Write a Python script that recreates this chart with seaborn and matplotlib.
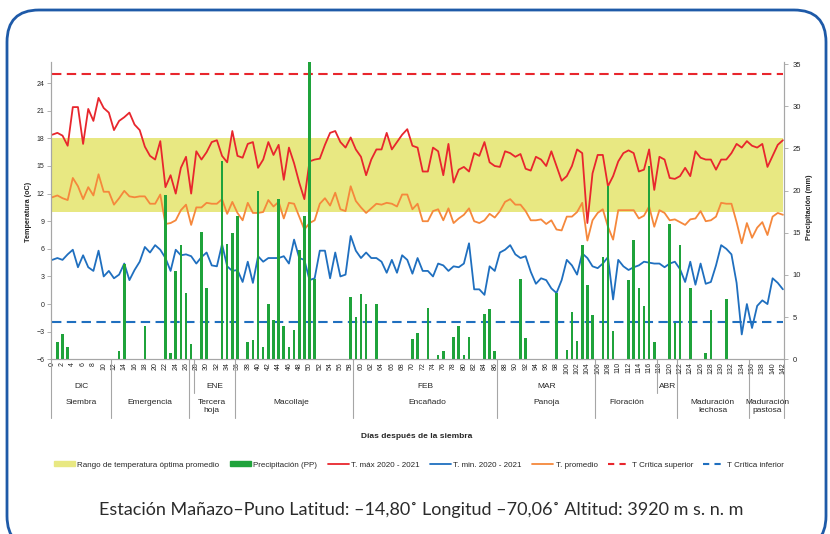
import matplotlib
matplotlib.use("Agg")
import matplotlib.pyplot as plt
import numpy as np
import seaborn as sns
from matplotlib.patches import FancyBboxPatch, Patch
from matplotlib.lines import Line2D
from matplotlib.transforms import IdentityTransform

# ---- data ----
days = list(range(0, 143))

t_max = [18.4, 18.6, 18.3, 17.2, 21.4, 21.4, 17.4, 21.2, 19.9, 22.4,
         21.3, 20.8, 18.9, 19.9, 20.3, 20.8, 19.5, 18.9, 17.1, 16.1,
         15.7, 17.7, 12.7, 14.0, 12.0, 14.8, 16.0, 12.0, 16.6, 15.7,
         16.5, 17.6, 17.8, 16.1, 15.4, 18.8, 16.1, 15.9, 17.4, 17.6,
         14.8, 15.7, 17.6, 16.2, 17.3, 13.5, 17.0, 15.3, 13.2, 11.4,
         15.5, 15.7, 15.8, 17.3, 18.6, 18.8, 17.6, 17.0, 18.1, 16.8,
         16.0, 14.0, 15.7, 16.8, 16.8, 18.6, 16.8, 17.6, 18.4, 19.0,
         17.2, 17.0, 14.4, 14.4, 17.0, 16.6, 14.0, 17.4, 13.2, 14.6,
         14.9, 14.4, 16.4, 16.1, 17.6, 15.4, 15.0, 14.9, 16.6, 16.4,
         16.0, 16.3, 14.7, 14.5, 16.0, 15.7, 15.0, 16.6, 15.0, 13.4,
         13.9, 15.0, 16.8, 16.4, 8.8, 14.2, 16.2, 16.2, 12.8, 13.9,
         15.5, 16.4, 16.7, 16.4, 14.4, 14.6, 16.8, 12.4, 16.0, 15.7,
         13.7, 13.6, 13.9, 14.8, 13.9, 16.6, 15.9, 15.7, 15.7, 14.6,
         15.7, 15.7, 16.4, 17.4, 17.0, 17.7, 17.2, 17.0, 17.4, 14.9,
         16.1, 17.3, 17.8]

t_prom = [11.6, 11.8, 11.5, 11.3, 13.7, 12.8, 11.4, 12.7, 11.8, 14.1,
          12.2, 12.2, 10.8, 11.5, 12.3, 11.7, 11.6, 11.7, 11.7, 10.9,
          10.9, 11.9, 8.7, 8.8, 9.1, 10.2, 10.8, 8.6, 10.5, 10.5,
          11.0, 10.9, 10.9, 11.4, 9.8, 11.1, 9.9, 9.1, 11.0, 9.9,
          9.9, 10.0, 11.3, 10.6, 11.1, 9.3, 11.0, 10.9, 9.5, 8.1,
          8.8, 9.1, 10.9, 11.5, 10.7, 12.1, 10.3, 10.1, 12.8, 11.2,
          10.5, 9.9, 10.4, 10.9, 10.8, 11.0, 10.9, 10.6, 11.9, 11.9,
          10.3, 10.9, 9.0, 9.0, 10.1, 10.3, 9.1, 10.4, 8.8, 9.3,
          9.7, 10.4, 9.0, 8.8, 9.1, 9.8, 9.4, 10.1, 11.1, 11.4,
          10.8, 10.8, 10.1, 9.1, 9.1, 9.2, 8.7, 9.1, 8.1, 8.0,
          9.5, 9.5, 10.0, 11.0, 6.9, 9.1, 9.9, 10.3, 8.4, 7.0,
          10.2, 10.2, 10.2, 10.2, 9.3, 9.6, 10.6, 8.4, 10.2, 9.9,
          9.1, 9.2, 8.9, 8.6, 9.2, 9.3, 10.1, 9.0, 9.1, 9.5,
          11.0, 10.9, 10.9, 8.9, 6.6, 8.8, 7.2, 8.3, 8.9, 7.5,
          9.5, 9.9, 9.7]

t_min = [4.8, 5.0, 4.8, 5.4, 5.9, 4.0, 5.3, 4.0, 3.6, 5.8,
         3.0, 3.6, 2.8, 3.2, 4.4, 2.6, 3.7, 4.6, 6.2, 5.6,
         6.4, 5.9, 5.0, 3.6, 5.9, 5.3, 5.4, 5.2, 4.4, 5.1,
         5.6, 4.2, 4.1, 6.5, 4.1, 3.6, 3.7, 2.4, 4.6, 2.3,
         5.2, 4.6, 5.0, 5.0, 5.0, 5.2, 4.4, 7.0, 5.0, 4.8,
         2.6, 2.8, 5.8, 5.8, 2.8, 5.6, 3.0, 3.2, 7.4, 5.8,
         5.0, 5.6, 5.0, 5.0, 4.6, 3.4, 4.8, 3.4, 5.3, 4.8,
         3.3, 5.0, 3.6, 3.6, 3.0, 4.4, 4.2, 3.6, 4.1, 4.0,
         4.4, 6.6, 1.6, 1.6, 1.0, 4.1, 3.6, 5.6, 5.9, 6.4,
         5.4, 5.0, 5.2, 3.5, 2.2, 2.8, 2.6, 1.7, 1.2, 2.6,
         4.8, 4.2, 3.2, 5.5, 5.0, 4.1, 3.9, 4.4, 5.1, 0.5,
         4.8, 4.1, 3.7, 4.0, 4.2, 4.6, 4.5, 4.4, 4.4, 4.0,
         4.4, 4.6, 3.8, 2.4, 4.6, 2.1, 4.4, 2.2, 2.4, 4.2,
         6.4, 6.0, 5.4, 2.3, -3.3, 0.0, -2.6, -0.2, 0.4, 0.0,
         2.8, 2.3, 1.6]

rain_days = [1, 2, 3, 13, 14, 18, 22, 23, 24, 25, 26, 27, 29, 30, 33, 34, 35, 36,
             38, 39, 40, 41, 42, 43, 44, 45, 46, 47, 48, 49, 50, 51,
             58, 59, 60, 61, 63, 70, 71, 73, 75, 76, 78, 79, 80, 81, 84, 85, 86,
             91, 92, 98, 100, 101, 102, 103, 104, 105, 107, 108, 109,
             112, 113, 114, 115, 116, 117, 120, 121, 122, 124, 127, 128, 131]
rain_mm = [2.1, 3.0, 1.4, 1.0, 11.3, 3.9, 19.5, 0.8, 10.5, 13.6, 7.8, 1.8, 15.1, 8.5,
           23.5, 13.7, 15.0, 17.0,
           2.0, 2.3, 20.0, 1.4, 6.6, 4.6, 19.0, 3.9, 1.4, 3.5, 13.0, 17.0, 35.2, 9.5,
           7.4, 5.0, 7.7, 6.6, 6.6, 2.4, 3.1, 6.1, 0.5, 1.0, 2.6, 4.0, 0.5, 2.6, 5.4, 6.0, 1.0,
           9.5, 2.5, 7.9, 1.1, 5.6, 2.2, 13.6, 8.8, 5.2, 12.1, 20.5, 3.3,
           9.4, 14.2, 8.5, 6.3, 22.9, 2.1, 16.0, 4.3, 13.6, 8.5, 0.8, 5.85, 7.2]

band_low, band_high = 10, 18
t_crit_sup, t_crit_inf = 25, -2

months = ["DIC", "ENE", "FEB", "MAR", "ABR"]
month_pos = [5.7, 31.5, 72.5, 96, 119.5]
phases = ["Siembra", "Emergencia", "Tercera\nhoja", "Macollaje", "Encañado",
          "Panoja", "Floración", "Maduración\nlechosa", "Maduración\npastosa"]
phase_pos = [5.7, 19, 31, 46.5, 72.8, 96, 111.6, 128.4, 139]
phase_edges = [-0.15, 11.5, 26.5, 35.5, 58.5, 86.5, 105.5, 121.5, 135.5, 142.2]
month_edges = [27.5, 117.5]

c_band = "#e8e882"
c_rain = "#1fa33b"
c_max = "#e8262d"
c_min = "#1f6fbf"
c_prom = "#f5883c"
grey = "#a6a6a6"

sns.set_style("white")
plt.rcParams['font.family'] = ['Liberation Sans', 'DejaVu Sans']

fig = plt.figure(figsize=(8.3, 5.34), dpi=100)
ax = fig.add_axes([0.062, 0.3272, 0.8825, 0.5567])
ax2 = ax.twinx()

# temperature side
ax.fill_between(days, band_low, band_high, color=c_band, lw=0, zorder=0)
sns.lineplot(x=days, y=t_max, ax=ax, color=c_max, lw=1.3)
sns.lineplot(x=days, y=t_min, ax=ax, color=c_min, lw=1.3)
sns.lineplot(x=days, y=t_prom, ax=ax, color=c_prom, lw=1.3)
sns.lineplot(x=days, y=[t_crit_sup] * len(days), ax=ax, color=c_max, lw=1.5,
             linestyle=(0, (4.5, 2.6)))
sns.lineplot(x=days, y=[t_crit_inf] * len(days), ax=ax, color=c_min, lw=1.5,
             linestyle=(0, (4.5, 2.6)))

# precipitation side
sns.barplot(x=rain_days, y=rain_mm, ax=ax2, native_scale=True, color=c_rain,
            width=0.5, saturation=1, errorbar=None, linewidth=0)

ax.set_xlim(-0.15, 142.2)
ax.set_ylim(-6, 26.3)
ax2.set_ylim(0, 35.25)

ax.set_yticks(np.arange(-6, 25, 3))
ax2.set_yticks(np.arange(0, 36, 5))
ax.set_xticks(range(0, 143, 2))
ax.set_xticklabels([str(d) for d in range(0, 143, 2)], rotation=90)
for a in (ax, ax2):
    a.set_xlabel("")
    a.set_ylabel("")
    for s in a.spines.values():
        s.set_color(grey)
        s.set_linewidth(0.8)
    a.spines["top"].set_visible(False)
ax.tick_params(axis="y", direction="out", length=3, width=0.6, color=grey,
               labelsize=5, pad=2, left=True)
ax2.tick_params(axis="y", direction="out", length=3, width=0.6, color=grey,
                labelsize=5.5, pad=3, right=True)
ax.tick_params(axis="x", length=0, labelsize=5, pad=2)

# multi-level category axis below the day ticks
tr = ax.get_xaxis_transform()
for x in phase_edges:
    ax.plot([x, x], [0, -0.198], transform=tr, color=grey, lw=0.8, clip_on=False)
for x in month_edges:
    ax.plot([x, x], [0, -0.113], transform=tr, color=grey, lw=0.8, clip_on=False)
for m, x in zip(months, month_pos):
    ax.text(x, -0.093, m, transform=tr, ha="center", va="center", fontsize=6)
for p, x in zip(phases, phase_pos):
    ax.text(x, -0.133, p, transform=tr, ha="center", va="top", fontsize=6,
            linespacing=1.15)

fig.text(0.5025, 1 - 436 / 534, "Días después de la siembra", ha="center",
         va="center", fontsize=6, fontweight="bold")
fig.text(0.034, 1 - 212 / 534, "Temperatura (oC)", rotation=90, ha="center",
         va="center", fontsize=5.2, fontweight="bold")
fig.text(0.975, 1 - 207 / 534, "Precipitación (mm)", rotation=90, ha="center",
         va="center", fontsize=5.2, fontweight="bold")

handles = [
    Patch(color=c_band, label="Rango de temperatura óptima promedio"),
    Patch(color=c_rain, label="Precipitación (PP)"),
    Line2D([], [], color=c_max, lw=1.3, label="T. máx 2020 - 2021"),
    Line2D([], [], color=c_min, lw=1.3, label="T. min. 2020 - 2021"),
    Line2D([], [], color=c_prom, lw=1.3, label="T. promedio"),
    Line2D([], [], color=c_max, lw=1.5, linestyle=(0, (3, 2.5)), label="T Crítica superior"),
    Line2D([], [], color=c_min, lw=1.5, linestyle=(0, (3, 2.5)), label="T Crítica inferior"),
]
fig.legend(handles=handles, loc="center", bbox_to_anchor=(0.5045, 1 - 465 / 534),
           ncol=7, frameon=False, fontsize=5.8, handlelength=2.6,
           handleheight=0.6, handletextpad=0.3, columnspacing=1.3)

fig.text(0.508, 1 - 510 / 534,
         "Estación Mañazo–Puno Latitud: –14,80˚ Longitud –70,06˚ Altitud: 3920 m s. n. m",
         ha="center", va="center", fontsize=13, color="#2b2b2b",
         family=["Lato", "DejaVu Sans"])

frame = FancyBboxPatch((7, -14), 819, 538, boxstyle="round,pad=0,rounding_size=32",
                       transform=IdentityTransform(), fill=False,
                       edgecolor="#1e5aa8", lw=2)
fig.add_artist(frame)

fig.savefig("out.png", dpi=100)
